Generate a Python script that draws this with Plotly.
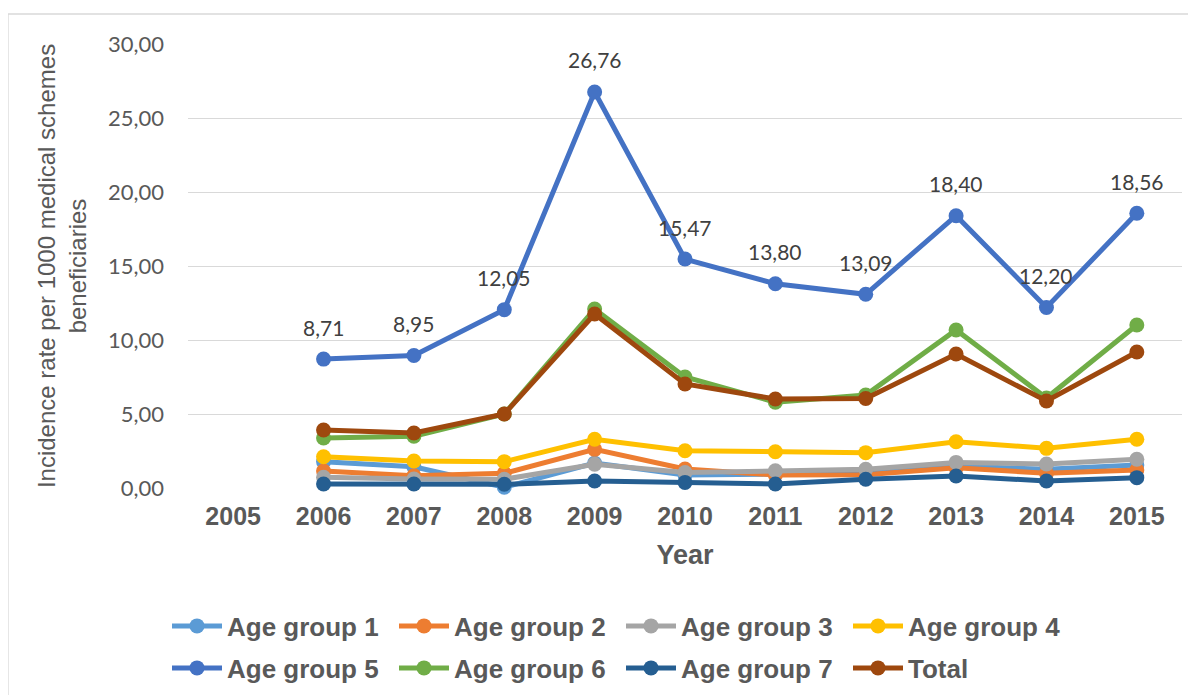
import plotly.graph_objects as go

years = ["2005", "2006", "2007", "2008", "2009", "2010", "2011", "2012", "2013", "2014", "2015"]

age_group_1 = [None, 1.78, 1.44, 0.05, 1.68, 0.88, 0.95, 0.98, 1.49, 1.26, 1.55]
age_group_2 = [None, 1.15, 0.83, 0.99, 2.61, 1.28, 0.88, 0.90, 1.37, 0.99, 1.22]
age_group_3 = [None, 0.72, 0.60, 0.59, 1.60, 1.04, 1.17, 1.26, 1.73, 1.62, 1.94]
age_group_4 = [None, 2.11, 1.82, 1.78, 3.29, 2.52, 2.45, 2.39, 3.13, 2.68, 3.29]
age_group_5 = [None, 8.71, 8.95, 12.05, 26.76, 15.47, 13.80, 13.09, 18.40, 12.20, 18.56]
age_group_6 = [None, 3.38, 3.50, 5.00, 12.09, 7.50, 5.80, 6.28, 10.68, 6.08, 11.01]
age_group_7 = [None, 0.27, 0.27, 0.25, 0.47, 0.38, 0.27, 0.59, 0.81, 0.47, 0.70]
total = [None, 3.92, 3.72, 5.00, 11.76, 7.03, 6.01, 6.05, 9.05, 5.88, 9.19]

series = [
    ("Age group 1", age_group_1, "#5B9BD5"),
    ("Age group 2", age_group_2, "#ED7D31"),
    ("Age group 3", age_group_3, "#A5A5A5"),
    ("Age group 4", age_group_4, "#FFC000"),
    ("Age group 5", age_group_5, "#4472C4"),
    ("Age group 6", age_group_6, "#70AD47"),
    ("Age group 7", age_group_7, "#255E91"),
    ("Total", total, "#9E480E"),
]

fig = go.Figure()
for i, (name, vals, color) in enumerate(series):
    fig.add_trace(go.Scatter(
        x=years, y=vals, name=name, mode="lines+markers",
        line=dict(color=color, width=5),
        marker=dict(color=color, size=15),
        cliponaxis=False,
        legend="legend" if i < 4 else "legend2",
    ))

for idx, v in enumerate(age_group_5):
    if v is None:
        continue
    fig.add_annotation(
        x=idx, y=v, xref="x", yref="y",
        text=f"{v:.2f}".replace(".", ","),
        showarrow=False, yshift=32,
        font=dict(family="Lato, Liberation Sans, sans-serif", size=21, color="#404040"),
    )

# page body has an 8px margin, so work in reference pixels minus 8
OFF = 8
W, H = 1196 - OFF, 695 - OFF
L, R, T, B = 188 - OFF, 1182 - OFF, 44 - OFF, 488 - OFF
pw, ph = R - L, B - T


def px_x(x):
    return (x - OFF - L) / pw


def px_y(y):
    return (B - (y - OFF)) / ph


fig.add_shape(
    type="rect", xref="paper", yref="paper",
    x0=px_x(8), x1=px_x(1190),
    y0=px_y(705), y1=px_y(14),
    line=dict(color="#D9D9D9", width=1.3), fillcolor="rgba(0,0,0,0)", layer="below",
)

legfont = dict(family="Liberation Sans, Arial, sans-serif", size=26, color="#595959", weight="bold")
legcommon = dict(orientation="h", xanchor="left", yanchor="middle", font=legfont,
                 entrywidth=162, entrywidthmode="pixels", traceorder="normal",
                 bgcolor="rgba(0,0,0,0)", itemwidth=50)

fig.update_layout(
    width=W, height=H,
    margin=dict(l=L, r=W - R, t=T, b=H - B, autoexpand=False),
    paper_bgcolor="white", plot_bgcolor="white",
    separators=",.",
    showlegend=True,
    legend=dict(x=px_x(167), y=px_y(626), **legcommon),
    legend2=dict(x=px_x(167), y=px_y(668), **legcommon),
    xaxis=dict(
        type="category", categoryorder="array", categoryarray=years,
        range=[-0.5, 10.5],
        showgrid=False, showline=False, zeroline=False,
        tickfont=dict(family="Liberation Sans, Arial, sans-serif", size=25, color="#595959", weight="bold"),
        ticklabelstandoff=11,
        title=dict(text="<b>Year</b>", standoff=16,
                   font=dict(family="Liberation Sans, Arial, sans-serif", size=27, color="#595959")),
    ),
    yaxis=dict(
        range=[0, 30], dtick=5, tickformat=".2f",
        showgrid=True, gridcolor="#D9D9D9", gridwidth=1.3,
        zeroline=False, showline=False,
        tickfont=dict(family="Lato, Liberation Sans, sans-serif", size=22, color="#595959"),
        ticklabelstandoff=23,
        title=dict(text="Incidence rate per 1000 medical schemes<br>beneficiaries", standoff=14,
                   font=dict(family="Liberation Sans, Arial, sans-serif", size=24, color="#595959")),
    ),
)

fig.write_html("out.html")
